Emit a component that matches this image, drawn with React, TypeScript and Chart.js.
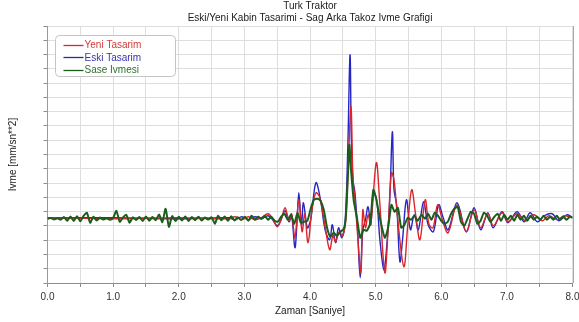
import { useEffect, useRef } from 'react';
import { Chart, registerables } from 'chart.js';

Chart.register(...registerables);

const FONT = '"Liberation Sans", Arial, Helvetica, sans-serif';

const chartTitle = 'Turk Traktor';
const chartSubtitle = 'Eski/Yeni Kabin Tasarimi - Sag Arka Takoz Ivme Grafigi';
const xTitle = 'Zaman [Saniye]';
const yTitle = 'Ivme [mm/sn**2]';
const seriesNames = ['Yeni Tasarim', 'Eski Tasarim', 'Sase Ivmesi'];

const xTickValues = [0, 0.5, 1, 1.5, 2, 2.5, 3, 3.5, 4, 4.5, 5, 5.5, 6, 6.5, 7, 7.5, 8];
const yGridValues = [-4500, -3500, -2500, -1500, -500, 500, 1500, 2500, 3500, 4500, 5500, 6500, 7500, 8500, 9500, 10500, 11500, 12500, 13500];

// Yeni Tasarim (red)
const yeniT = [0, 1.0, 2.0, 2.76, 2.86, 2.96, 3.06, 3.16, 3.26, 3.36, 3.43, 3.50, 3.56, 3.62, 3.68, 3.72, 3.77, 3.83, 3.88, 3.92, 3.97, 4.03, 4.09, 4.15, 4.23, 4.30, 4.35, 4.39, 4.445, 4.495, 4.545, 4.585, 4.625, 4.655, 4.685, 4.725, 4.775, 4.805, 4.845, 4.885, 4.925, 5.01, 5.06, 5.14, 5.19, 5.24, 5.28, 5.33, 5.43, 5.49, 5.55, 5.61, 5.675, 5.755, 5.815, 5.875, 5.945, 6.025, 6.105, 6.24, 6.38, 6.50, 6.60, 6.71, 6.795, 6.925, 7.015, 7.155, 7.29, 7.41, 7.54, 7.64, 7.77, 7.87, 8.0];
const yeniV = [70, 0, 70, 0, 140, -70, 140, -70, 70, 350, 0, -560, -70, 770, -140, 350, -1330, 1330, -910, 350, -1680, 630, 1820, 1470, -560, -2170, -1190, -1610, -910, -1190, -70, 4130, 7840, 2730, 1330, -1120, -3780, 630, -630, 280, -420, 3920, 1330, -3780, -770, 3220, 2730, 280, -3360, -420, 2030, 280, -1470, 1330, -420, -630, 980, -210, -980, 980, -910, 630, -630, 350, -490, 420, -210, 350, -140, 280, -140, 210, -70, 210, 70];

// Eski Tasarim (blue)
const eskiT = [0, 1.0, 2.0, 2.76, 2.86, 2.96, 3.06, 3.16, 3.26, 3.36, 3.43, 3.50, 3.56, 3.62, 3.68, 3.72, 3.77, 3.80, 3.83, 3.87, 3.90, 3.96, 4.01, 4.09, 4.16, 4.23, 4.30, 4.34, 4.39, 4.435, 4.485, 4.535, 4.575, 4.61, 4.63, 4.655, 4.685, 4.725, 4.765, 4.805, 4.845, 4.885, 4.925, 4.965, 5.015, 5.065, 5.125, 5.165, 5.215, 5.255, 5.28, 5.32, 5.37, 5.41, 5.47, 5.53, 5.59, 5.65, 5.73, 5.80, 5.88, 5.96, 6.03, 6.105, 6.24, 6.38, 6.50, 6.60, 6.71, 6.79, 6.925, 7.015, 7.155, 7.265, 7.355, 7.465, 7.57, 7.69, 7.79, 7.92, 8.0];
const eskiV = [70, 70, 0, 70, -70, 140, -70, 140, 0, 210, -70, -490, -70, 560, -210, 210, -2030, -420, 1820, -420, 1120, -630, -70, 2520, 1330, -770, -1470, -420, -1680, -630, -1330, -210, 4830, 11480, 5530, 2730, 1820, -770, -4130, -770, -70, 840, -420, 1820, 1330, -1470, -3570, -2170, 1330, 6090, 2030, 980, -3010, -1470, 1330, -770, 280, -770, 1190, -420, -910, 980, 70, -770, 1120, -910, 770, -770, 420, -630, 490, -280, 490, -210, 420, -210, 210, 350, -140, 280, 70];

// Sase Ivmesi (green)
const saseT = [0, 0.05, 0.1, 0.15, 0.2, 0.25, 0.3, 0.35, 0.4, 0.45, 0.5, 0.55, 0.6, 0.65, 0.7, 0.75, 0.8, 0.85, 0.9, 0.95, 1.0, 1.05, 1.1, 1.15, 1.2, 1.25, 1.3, 1.35, 1.4, 1.45, 1.5, 1.55, 1.6, 1.65, 1.7, 1.75, 1.8, 1.85, 1.9, 1.95, 2.0, 2.05, 2.1, 2.15, 2.2, 2.25, 2.3, 2.35, 2.4, 2.45, 2.5, 2.55, 2.6, 2.65, 2.7, 2.75, 2.8, 2.85, 2.9, 2.95,
  3.01, 3.06, 3.11, 3.16, 3.21, 3.26, 3.31, 3.36, 3.41, 3.46, 3.51, 3.56, 3.61, 3.66, 3.71, 3.76, 3.81, 3.86, 3.91, 3.96, 4.01, 4.06, 4.11, 4.16, 4.21, 4.26, 4.31, 4.36, 4.41, 4.465, 4.515, 4.545, 4.575, 4.60, 4.625, 4.665, 4.715, 4.765, 4.815, 4.865, 4.915, 4.965, 5.005, 5.07, 5.14, 5.19, 5.24, 5.29, 5.34, 5.39, 5.44, 5.49, 5.54, 5.59, 5.64, 5.70, 5.75, 5.80, 5.85, 5.90, 5.95, 6.00, 6.05, 6.10, 6.15, 6.20, 6.25, 6.30, 6.35, 6.40, 6.45, 6.50, 6.55, 6.60, 6.65, 6.70, 6.75, 6.81, 6.86, 6.91, 6.96, 7.01, 7.06, 7.11, 7.16, 7.21, 7.26, 7.31, 7.36, 7.41, 7.46, 7.51, 7.56, 7.61, 7.66, 7.71, 7.76, 7.81, 7.86, 7.91, 7.96, 8.0];
const saseV = [0, 60, -50, 40, -70, 120, -140, 150, -160, 180, -170, 200, 420, -280, 140, -120, 80, -60, 50, -70, 60, 560, -210, 100, 280, -280, 100, -80, 120, -150, 160, -140, 120, -100, 300, -240, 700, -560, 180, -150, 140, -120, 150, -160, 120, -100, 140, -120, 80, -60, 100, -350, 210, -100, 160, -140, 180, -120, 100, -80,
  140, -140, 210, -70, 140, 0, 210, -70, 140, -140, -210, 140, 350, -70, 280, -350, 420, -280, -210, -140, 700, 1330, 1400, 1260, 630, -630, -1260, -980, -1190, -910, -700, 70, 2730, 5180, 3430, 1330, 70, -1330, -770, -840, -350, 2030, 1470, -70, -1330, -630, 980, 490, 770, -630, -420, 70, -70, 210, -140, 280, 0, 350, -70, 420, 210, -140, -350, -210, 350, 700, 840, -210, -490, 0, 490, 350, -350, -140, 420, 210, -210, 140, 350, -140, 280, -70, 210, -140, 280, -70, 210, -140, 210, -70, 140, -70, 210, -70, 140, -70, 210, -70, 140, -70, 140, 70];

const seriesColors = ['#d9262c', '#2626c4', '#1b5e1b'];
const legendTextColors = ['#d23a3a', '#3434b0', '#2f6e2f'];

const toPoints = (ts: number[], vs: number[]) => ts.map((t, i) => ({ x: t, y: vs[i] }));

const legendPlugin = {
  id: 'boxLegend',
  afterDatasetsDraw(chart: any) {
    const ctx = chart.ctx as CanvasRenderingContext2D;
    const { left, top } = chart.chartArea;
    const bx = Math.round(left + 7) + 0.5;
    const by = Math.round(top + 9) + 0.5;
    const bw = 120;
    const bh = 41;
    ctx.save();
    ctx.beginPath();
    if ((ctx as any).roundRect) (ctx as any).roundRect(bx, by, bw, bh, 4);
    else ctx.rect(bx, by, bw, bh);
    ctx.fillStyle = '#ffffff';
    ctx.fill();
    ctx.strokeStyle = '#c4c4c4';
    ctx.lineWidth = 1;
    ctx.stroke();
    ctx.font = `10px ${FONT}`;
    ctx.textBaseline = 'middle';
    ctx.textAlign = 'left';
    chart.data.datasets.forEach((ds: any, i: number) => {
      const ly = by + 9.5 + i * 12.3;
      ctx.beginPath();
      ctx.strokeStyle = seriesColors[i];
      ctx.lineWidth = 1.3;
      ctx.moveTo(bx + 8, Math.round(ly) + 0.5);
      ctx.lineTo(bx + 28, Math.round(ly) + 0.5);
      ctx.stroke();
      ctx.fillStyle = legendTextColors[i];
      ctx.fillText(ds.label, bx + 29, ly + 0.5);
    });
    ctx.restore();
  },
};

const borderPlugin = {
  id: 'plotBorder',
  afterDraw(chart: any) {
    const ctx = chart.ctx as CanvasRenderingContext2D;
    const { right, top, bottom } = chart.chartArea;
    ctx.save();
    ctx.strokeStyle = '#a8a8a8';
    ctx.lineWidth = 1;
    ctx.beginPath();
    ctx.moveTo(Math.round(right) + 0.5, top);
    ctx.lineTo(Math.round(right) + 0.5, bottom);
    ctx.stroke();
    ctx.restore();
  },
};

export default function App() {
  const canvasRef = useRef<HTMLCanvasElement | null>(null);

  useEffect(() => {
    if (!canvasRef.current) return;
    const font = { family: FONT, size: 10, weight: 'normal' as const, lineHeight: 1.2 };
    const chart = new Chart(canvasRef.current, {
      type: 'line',
      data: {
        datasets: [
          { label: seriesNames[0], data: toPoints(yeniT, yeniV), borderColor: seriesColors[0], borderWidth: 1.4, pointRadius: 0, tension: 0.35, order: 1 },
          { label: seriesNames[1], data: toPoints(eskiT, eskiV), borderColor: seriesColors[1], borderWidth: 1.4, pointRadius: 0, tension: 0.35, order: 2 },
          { label: seriesNames[2], data: toPoints(saseT, saseV), borderColor: seriesColors[2], borderWidth: 2, pointRadius: 0, tension: 0.2, order: 0 },
        ],
      },
      options: {
        animation: false,
        responsive: false,
        events: [],
        layout: { padding: { top: 0, right: 6.5, bottom: 0, left: 0 } },
        plugins: {
          legend: { display: false },
          tooltip: { enabled: false },
          title: { display: true, text: chartTitle, color: '#1a1a1a', font, padding: { top: 0, bottom: 0 }, fullSize: false },
          subtitle: { display: true, text: chartSubtitle, color: '#1a1a1a', font, padding: { top: 0, bottom: 2 }, fullSize: false },
        },
        scales: {
          x: {
            type: 'linear',
            min: 0,
            max: 8,
            afterBuildTicks: (s: any) => { s.ticks = xTickValues.map((v) => ({ value: v })); },
            afterFit: (s: any) => { s.height = 39; s.paddingLeft = 0; s.paddingRight = 0; },
            ticks: {
              autoSkip: false,
              maxRotation: 0,
              padding: 4,
              color: '#333333',
              font,
              callback: (v: any) => (Number.isInteger(Number(v)) ? Number(v).toFixed(1) : ''),
            },
            grid: { color: '#dedede', tickLength: 4, tickColor: '#8c8c8c', drawTicks: true },
            border: { color: '#8c8c8c' },
            title: { display: true, text: xTitle, color: '#1a1a1a', font, padding: { top: 0, bottom: 5 } },
          },
          y: {
            type: 'linear',
            min: -4500,
            max: 13500,
            afterBuildTicks: (s: any) => { s.ticks = yGridValues.map((v) => ({ value: v })); },
            afterFit: (s: any) => { s.width = 47.5; s.paddingTop = 0; s.paddingBottom = 0; },
            ticks: { display: false },
            grid: { color: '#dedede', tickLength: 4, tickColor: '#8c8c8c', drawTicks: true },
            border: { color: '#9a9a9a' },
            title: { display: true, text: yTitle, color: '#1a1a1a', font, padding: { top: 7, bottom: 0 } },
          },
        },
      },
      plugins: [legendPlugin, borderPlugin],
    });
    return () => chart.destroy();
  }, []);

  return (
    <div style={{ position: 'fixed', left: 0, top: 0, width: 579, height: 322, background: '#ffffff', overflow: 'hidden' }}>
      <canvas ref={canvasRef} width={579} height={322} style={{ display: 'block' }} />
    </div>
  );
}
